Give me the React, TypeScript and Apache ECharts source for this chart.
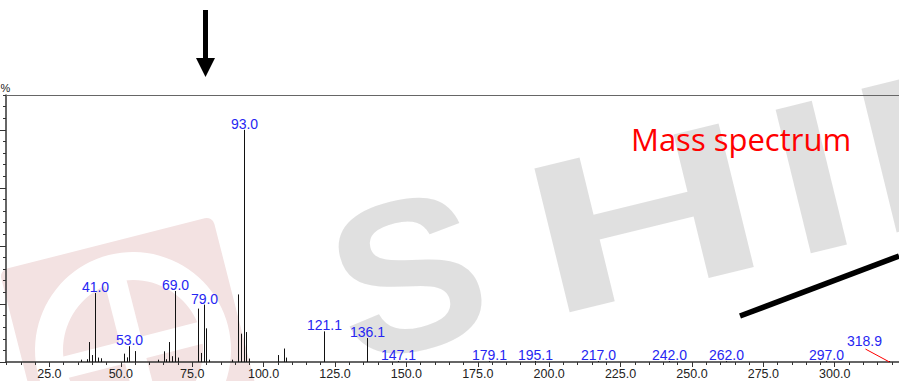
import React, { useEffect, useRef } from "react";
import * as echarts from "echarts";

// m/z values of the peaks and their relative intensities (%)
const peakMz = [36, 38, 39, 40, 41, 42, 43, 51, 52, 53, 55, 63, 65, 66, 67, 68, 69, 70, 77, 78, 79, 80, 81, 89, 91, 92, 93, 94, 95, 105, 107, 108, 121.1, 136.1, 147.1, 179.1, 195.1, 217.0, 242.0, 262.0, 297.0, 318.9];
const peakIntensity = [1.0, 1.2, 8.6, 3.0, 29.7, 1.9, 1.6, 3.6, 2.0, 6.8, 4.7, 1.0, 4.6, 1.2, 8.6, 2.5, 30.6, 1.9, 23.0, 3.9, 24.7, 14.5, 1.0, 1.0, 29.1, 12.2, 100, 12.9, 1.5, 3.0, 5.8, 1.9, 13.2, 10.3, 0.4, 0.4, 0.4, 0.4, 0.4, 0.4, 0.4, 0.4];
// peaks that carry an m/z label
const labelledMz = [41.0, 53.0, 69.0, 79.0, 93.0, 121.1, 136.1, 147.1, 179.1, 195.1, 217.0, 242.0, 262.0, 297.0, 318.9];
// the label that is pulled aside with a red guide line
const movedLabelMz = 318.9;
// x axis tick labels
const xTickLabels = [25, 50, 75, 100, 125, 150, 175, 200, 225, 250, 275, 300];
const yMajorTicks = [0, 25, 50, 75, 100];

const X_MIN = 9.8;
const X_MAX = 322.5;
const Y_MAX = 115;

export default function App() {
  const ref = useRef<HTMLDivElement>(null);
  useEffect(() => {
    if (!ref.current) return;
    const chart = echarts.init(ref.current, undefined, { renderer: "svg" });
    const xMinor: number[] = [];
    for (let v = 10; v <= 320; v += 5) xMinor.push(v);
    const yMinor: number[] = [];
    for (let v = 0; v <= Y_MAX; v += 5) yMinor.push(v);

    const font = "'Liberation Sans', Arial, sans-serif";
    // third dimension: 0 = no label, 1 = label above, 2 = label pulled aside
    const data = peakMz.map((m, i) => [
      m,
      peakIntensity[i],
      m === movedLabelMz ? 2 : labelledMz.indexOf(m) >= 0 ? 1 : 0,
    ]);

    const renderItem = (params: any, api: any) => {
      const m = api.value(0);
      const v = api.value(1);
      const flag = api.value(2);
      const base = api.coord([m, 0]);
      const top = api.coord([m, v]);
      const x = Math.round(base[0]) + 0.5;
      const children: any[] = [
        { type: "line", shape: { x1: x, y1: base[1], x2: x, y2: top[1] }, style: { stroke: "#111", lineWidth: 1 } },
      ];
      const text = m.toFixed(1);
      if (flag === 1) {
        children.push({
          type: "text", x: x, y: top[1] + 1,
          style: { text, fill: "#2626f2", font: "14px " + font, textAlign: "center", textVerticalAlign: "bottom" },
        });
      } else if (flag === 2) {
        const lx = x - 25;
        const ly = top[1] - 13;
        children.push({
          type: "text", x: lx, y: ly,
          style: { text, fill: "#2626f2", font: "14px " + font, textAlign: "center", textVerticalAlign: "bottom" },
        });
        children.push({
          type: "line", shape: { x1: lx + 1, y1: ly + 1, x2: x, y2: base[1] },
          style: { stroke: "#ff0000", lineWidth: 1 },
        });
      }
      return { type: "group", children };
    };

    const letter = (t: string, x: number, sx: number) => ({
      type: "text", x, y: 0, scaleX: sx, silent: true,
      style: {
        text: t, fill: "#c6c6c6", opacity: 0.55,
        font: "bold 215px 'Liberation Sans', Arial, sans-serif",
        textAlign: "center", textVerticalAlign: "middle",
      },
    });

    const gridBox = { left: 6, right: 0, top: 95, bottom: 19, containLabel: false, outerBoundsMode: "none" };
    const cx = 133, cy = 350;
    chart.setOption({
      animation: false,
      grid: [{ ...gridBox }, { ...gridBox }],
      xAxis: [
        {
          type: "value", gridIndex: 0, min: X_MIN, max: X_MAX, position: "bottom",
          axisLine: { show: true, lineStyle: { color: "#333", width: 1.5 } },
          axisTick: { show: true, customValues: xTickLabels, length: 5, lineStyle: { color: "#333" } },
          axisLabel: {
            show: true, customValues: xTickLabels, color: "#222", fontSize: 12.5, fontFamily: font, margin: 5,
            formatter: (v: number) => v.toFixed(1),
          },
          splitLine: { show: false },
        },
        {
          type: "value", gridIndex: 0, min: X_MIN, max: X_MAX, position: "top",
          axisLine: { show: true, lineStyle: { color: "#666", width: 1 } },
          axisTick: { show: false }, axisLabel: { show: false }, splitLine: { show: false },
        },
        {
          type: "value", gridIndex: 1, min: X_MIN, max: X_MAX, position: "bottom",
          axisLine: { show: false },
          axisTick: { show: true, customValues: xMinor, length: 3, lineStyle: { color: "#333" } },
          axisLabel: { show: false },
          splitLine: { show: false },
        },
      ],
      yAxis: [
        {
          type: "value", gridIndex: 0, min: 0, max: Y_MAX, position: "left",
          name: "%", nameLocation: "end", nameGap: 2,
          nameTextStyle: { color: "#222", fontSize: 11, fontFamily: font, align: "center", padding: [0, 1, 0, 0] },
          axisLine: { show: true, lineStyle: { color: "#333", width: 1.5 } },
          axisTick: { show: true, customValues: yMajorTicks, length: 6, lineStyle: { color: "#333" } },
          axisLabel: { show: false },
          splitLine: { show: false },
        },
        {
          type: "value", gridIndex: 1, min: 0, max: Y_MAX, position: "left",
          axisLine: { show: false },
          axisTick: { show: true, customValues: yMinor, length: 3, lineStyle: { color: "#333" } },
          axisLabel: { show: false },
          splitLine: { show: false },
        },
      ],
      series: [
        {
          type: "custom",
          xAxisIndex: 0, yAxisIndex: 0,
          renderItem,
          encode: { x: 0, y: 1 },
          clip: false,
          data,
          z: 5,
        },
      ],
      graphic: [
        // pale Shimadzu crest watermark
        {
          type: "group", x: cx, y: cy, rotation: 0.25, z: -10, silent: true,
          children: [
            { type: "rect", shape: { x: -110, y: -110, width: 220, height: 220, r: 8 }, style: { fill: "#f3e2e2" } },
            { type: "ring", shape: { cx: 0, cy: 0, r: 98, r0: 70 }, style: { fill: "#ffffff" } },
            { type: "rect", shape: { x: -11, y: -72, width: 22, height: 144 }, style: { fill: "#ffffff" } },
            { type: "rect", shape: { x: -72, y: -11, width: 144, height: 22 }, style: { fill: "#ffffff" } },
          ],
        },
        // big grey lettering
        {
          type: "group", x: 408, y: 275, rotation: 0.24, z: 50, silent: true,
          children: [
            letter("S", 0, 1.05),
            letter("H", 243, 1.5),
            letter("I", 415, 1.2),
            letter("M", 590, 1.4),
          ],
        },
        {
          type: "text", x: 631, y: 139, z: 60,
          style: {
            text: "Mass spectrum", fill: "#ff0000",
            font: "31px 'Open Sans', 'Noto Sans', sans-serif",
            textAlign: "left", textVerticalAlign: "middle",
          },
        },
        // down arrow
        { type: "rect", shape: { x: 203, y: 10, width: 5, height: 50 }, style: { fill: "#000" }, z: 60 },
        { type: "polygon", shape: { points: [[196, 58], [215, 58], [205.5, 77]] }, style: { fill: "#000" }, z: 60 },
        // thick black pointer line
        { type: "line", shape: { x1: 740, y1: 316, x2: 899, y2: 256 }, style: { stroke: "#000", lineWidth: 5.5 }, z: 60 },
      ],
    });
    return () => chart.dispose();
  }, []);
  return <div ref={ref} style={{ width: 899, height: 381, position: "absolute", left: 0, top: 0 }} />;
}
